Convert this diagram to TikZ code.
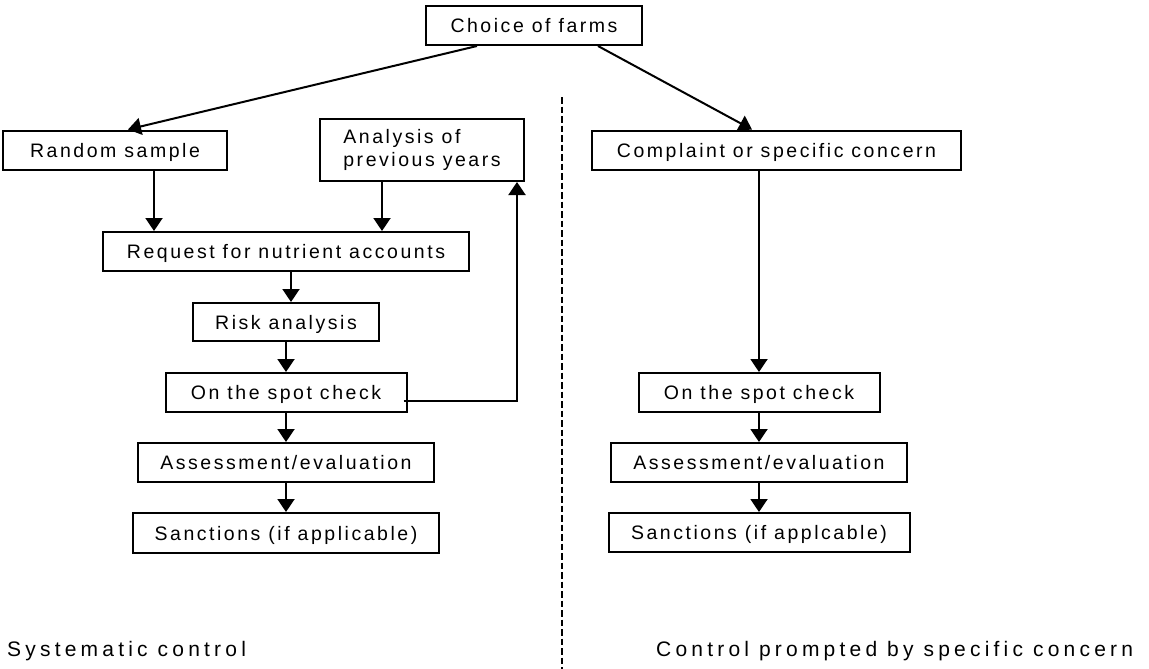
\documentclass[tikz,border=0pt]{standalone}
\usepackage{fontspec}
\setmainfont{Liberation Sans}[LetterSpace=13]
\usetikzlibrary{arrows.meta}
\begin{document}
\begin{tikzpicture}[x=1pt,y=-1pt,
  box/.style={draw, line width=2pt, inner sep=0pt, minimum height=39pt,
    font=\fontsize{19.5}{23}\selectfont, text height=14pt, text depth=0pt},
  arr/.style={line width=2pt, -{Triangle[width=17pt,length=13pt]}},
  divider/.style={line width=2pt, dash pattern=on 6.5pt off 3pt},
  caption/.style={anchor=base west, inner sep=0pt,
    font=\fontsize{21}{25}\selectfont\addfontfeatures{LetterSpace=20}}]
\useasboundingbox (0,0) rectangle (1149,669);
% boxes
\node[box, minimum width=216pt] (choice) at (534,25.5) {Choice of farms};
\node[box, minimum width=224pt] (rand) at (115,150) {Random sample};
\node[box, minimum width=204pt, minimum height=62pt, align=left,
  text height=, text depth=] (anal) at (422,150)
  {Analysis of\\previous years};
\node[box, minimum width=369pt] (comp) at (776.5,150) {Complaint or specific concern};
\node[box, minimum width=366pt] (req) at (286,251.5) {Request for nutrient accounts};
\node[box, minimum width=186pt, minimum height=38pt] (risk) at (286,322) {Risk analysis};
\node[box, minimum width=241pt] (spotL) at (286,392.5) {On the spot check};
\node[box, minimum width=296pt] (assL) at (286,462.5) {Assessment/evaluation};
\node[box, minimum width=306pt, minimum height=40pt] (sancL) at (286,533) {Sanctions (if applicable)};
\node[box, minimum width=241pt] (spotR) at (759,392.5) {On the spot check};
\node[box, minimum width=296pt] (assR) at (759,462.5) {Assessment/evaluation};
\node[box, minimum width=301pt] (sancR) at (759,532.5) {Sanctions (if applcable)};
% captions
\node[caption] (capL) at (7,656) {Systematic control};
\node[caption] (capR) at (656,656) {Control prompted by specific concern};
% divider
\coordinate (dtop) at (562,97);
\coordinate (dbot) at (562,669);
\draw[divider] (dtop) -- (dbot);
% connectors
\draw[arr] ([xshift=-57pt]choice.south) -- ([xshift=13pt]rand.north);
\draw[arr] ([xshift=64pt]choice.south) -- ([xshift=-24.5pt]comp.north);
\coordinate (c1) at ([xshift=39pt]rand.south);
\draw[arr] (c1) -- (c1 |- req.north);
\coordinate (c2) at ([xshift=-40pt]anal.south);
\draw[arr] (c2) -- (c2 |- req.north);
\coordinate (c3) at ([xshift=5pt]req.south);
\draw[arr] (c3) -- (c3 |- risk.north);
\draw[arr] (risk.south) -- (spotL.north);
\draw[arr] (spotL.south) -- (assL.north);
\draw[arr] (assL.south) -- (sancL.north);
\coordinate (fb) at ([xshift=-4pt,yshift=-8.5pt]spotL.east);
\coordinate (fbend) at ([xshift=95pt]anal.south);
\draw[arr] (fb) -| (fbend);
\draw[arr] (comp.south -| spotR.north) -- (spotR.north);
\draw[arr] (spotR.south) -- (assR.north);
\draw[arr] (assR.south) -- (sancR.north);
\end{tikzpicture}
\end{document}
